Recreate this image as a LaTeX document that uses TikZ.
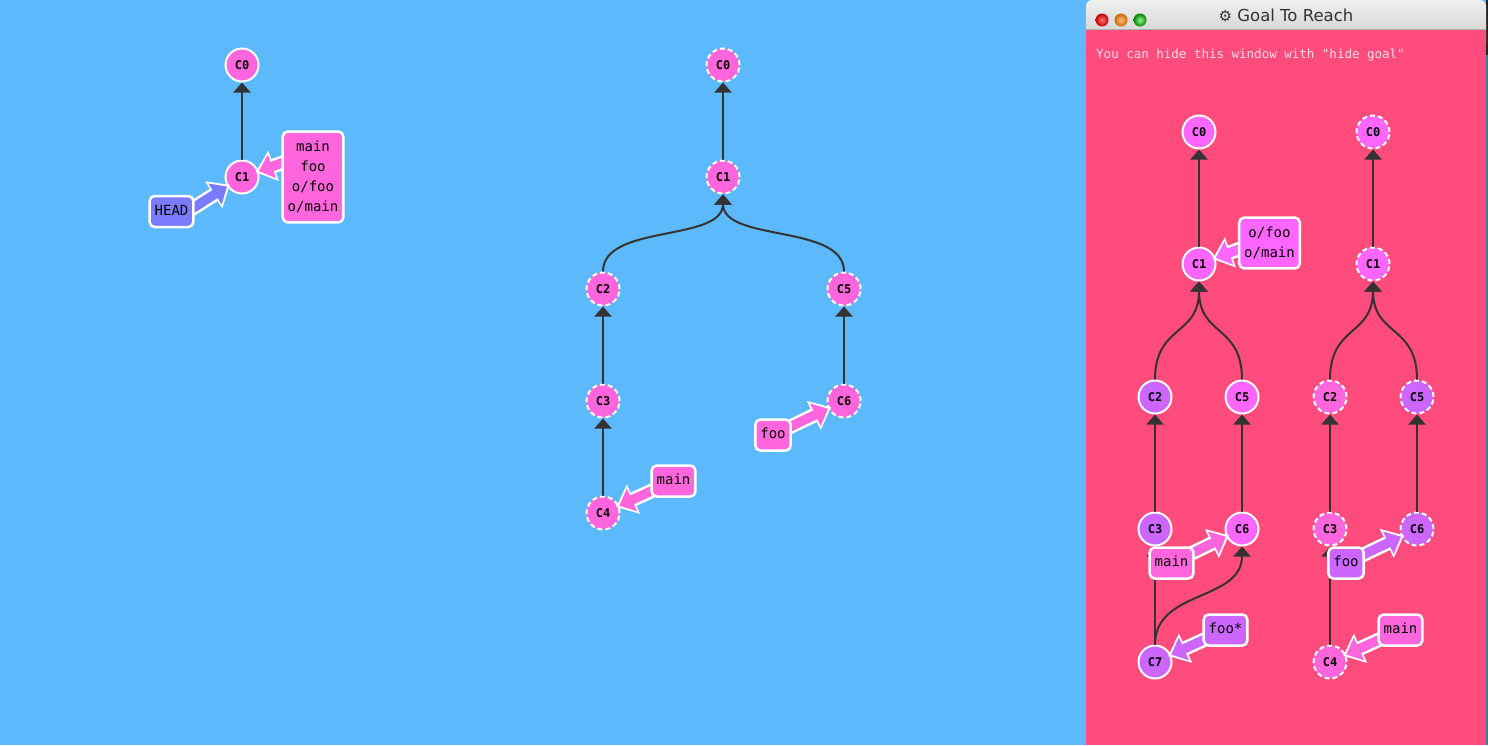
\documentclass[tikz,border=0pt]{standalone}
\usepackage{fontspec}
\usetikzlibrary{arrows.meta}
\newfontfamily\monof{DejaVu Sans Mono}
\newfontfamily\titlef{DejaVu Sans}
\definecolor{bgblue}{HTML}{5CBAFC}
\definecolor{pinkc}{HTML}{FF66DD}
\definecolor{magc}{HTML}{FF66FF}
\definecolor{purc}{HTML}{CC66FF}
\definecolor{headc}{HTML}{7B7BFF}
\definecolor{goalbg}{HTML}{FF4C7D}
\definecolor{edgec}{HTML}{333333}
\definecolor{hintc}{HTML}{FFDDE6}
\definecolor{behind}{HTML}{3B7C9C}
\newcommand\brarrow[3]{%
  \draw[line width=14.5pt, white, -{Triangle[width=31pt,length=19pt]}, shorten >=-3pt] (#2) -- (#3);
  \draw[line width=9.5pt, #1, -{Triangle[width=24pt,length=14pt]}, shorten >=0.3pt] (#2) -- (#3);
}
\begin{document}
\begin{tikzpicture}[x=1pt,y=-1pt,
  commit/.style={circle, minimum size=33pt, inner sep=0pt, draw=white, line width=2pt,
    font=\fontsize{12}{14}\monof\bfseries, text=black},
  dsh/.style={dash pattern=on 5pt off 3pt},
  edge/.style={draw=edgec, line width=2pt, -{Triangle[width=17pt,length=10pt]}},
  blabel/.style={draw=white, line width=2.5pt, rounded corners=5pt,
    font=\fontsize{14}{20}\monof\selectfont, inner xsep=5pt, minimum height=31pt,
    text height=10pt, text depth=3pt, text=black},
  mlabel/.style={draw=white, line width=2.5pt, rounded corners=5pt,
    font=\fontsize{14}{20}\monof\selectfont, inner xsep=5pt, inner ysep=9.5pt,
    align=center, text=black}]
\useasboundingbox (0,0) rectangle (1488,745);
\fill[bgblue] (0,0) rectangle (1488,745);

% ---------- goal window frame ----------
\fill[black!85] (1486,0) rectangle (1488,55);
\fill[behind] (1486,55) rectangle (1488,745);
\fill[black!35] (1085,4) rectangle (1087,745);
\shade[top color=black!6, bottom color=black!22, rounded corners=6pt] (1086,0) rectangle (1486,50);
\fill[goalbg] (1086,29) rectangle (1486,745);
\draw[black!30, line width=0.6pt] (1086,29) -- (1486,29);
\shade[inner color=red!55!white, outer color=red!75!black] (1102,20) circle (6.5pt);
\shade[inner color=orange!50!white, outer color=orange!80!black] (1121,20) circle (6.5pt);
\shade[inner color=green!45!white, outer color=green!50!black] (1140,20) circle (6.5pt);
\node[font=\fontsize{16.5}{18}\titlef\selectfont, text=black!80] (title) at (1286,15) {{\fontsize{15}{18}\selectfont ⚙} Goal To Reach};
\node[anchor=west, font=\fontsize{12.5}{14}\monof\selectfont, text=hintc, inner sep=0pt] (hint) at (1096,55) {You can hide this window with "hide goal"};

% ---------- commits ----------
\node[commit, fill=pinkc] (L0) at (242,65) {C0};
\node[commit, fill=pinkc] (L1) at (242,177) {C1};

\node[commit, dsh, fill=pinkc] (M0) at (723,65) {C0};
\node[commit, dsh, fill=pinkc] (M1) at (723,177) {C1};
\node[commit, dsh, fill=pinkc] (M2) at (603,289) {C2};
\node[commit, dsh, fill=pinkc] (M3) at (603,401) {C3};
\node[commit, dsh, fill=pinkc] (M4) at (603,513) {C4};
\node[commit, dsh, fill=pinkc] (M5) at (844,289) {C5};
\node[commit, dsh, fill=pinkc] (M6) at (844,401) {C6};

\node[commit, fill=magc] (G0) at (1199,132) {C0};
\node[commit, fill=magc] (G1) at (1199,264) {C1};
\node[commit, fill=purc] (G2) at (1155,397) {C2};
\node[commit, fill=magc] (G5) at (1242,397) {C5};
\node[commit, fill=purc] (G3) at (1155,529) {C3};
\node[commit, fill=magc] (G6) at (1242,529) {C6};
\node[commit, fill=purc] (G7) at (1155,662) {C7};

\node[commit, dsh, fill=magc] (R0) at (1373,132) {C0};
\node[commit, dsh, fill=magc] (R1) at (1373,264) {C1};
\node[commit, dsh, fill=pinkc] (R2) at (1330,397) {C2};
\node[commit, dsh, fill=purc] (R5) at (1417,397) {C5};
\node[commit, dsh, fill=pinkc] (R3) at (1330,529) {C3};
\node[commit, dsh, fill=purc] (R6) at (1417,529) {C6};
\node[commit, dsh, fill=pinkc] (R4) at (1330,662) {C4};

% ---------- edges ----------
\draw[edge] (L1) -- (L0);

\draw[edge] (M1) -- (M0);
\draw[edge] (M2.north) .. controls +(0,-48) and +(0,48) .. (M1.south);
\draw[edge] (M5.north) .. controls +(0,-48) and +(0,48) .. (M1.south);
\draw[edge] (M3) -- (M2);
\draw[edge] (M4) -- (M3);
\draw[edge] (M6) -- (M5);

\draw[edge] (G1) -- (G0);
\draw[edge] (G2.north) .. controls +(0,-55) and +(0,55) .. (G1.south);
\draw[edge] (G5.north) .. controls +(0,-55) and +(0,55) .. (G1.south);
\draw[edge] (G3) -- (G2);
\draw[edge] (G6) -- (G5);
\draw[edge] (G7) -- (G3);
\draw[edge] (G7.north) .. controls +(0,-55) and +(0,55) .. (G6.south);

\draw[edge] (R1) -- (R0);
\draw[edge] (R2.north) .. controls +(0,-55) and +(0,55) .. (R1.south);
\draw[edge] (R5.north) .. controls +(0,-55) and +(0,55) .. (R1.south);
\draw[edge] (R3) -- (R2);
\draw[edge] (R6) -- (R5);
\draw[edge] (R4) -- (R3);

% ---------- branch arrows ----------
\coordinate (headt) at (171,222);
\coordinate (lbigt) at (313,152);
\coordinate (mfooc) at (773,435);
\coordinate (mmainc) at (673.5,481);
\coordinate (gofc) at (1269.5,238);
\coordinate (gmainc) at (1171.5,563);
\coordinate (gfooc) at (1225.5,630);
\coordinate (rfooc) at (1346,563);
\coordinate (rmainc) at (1400.5,630);

\brarrow{headc}{headt}{L1}
\brarrow{pinkc}{lbigt}{L1}
\brarrow{pinkc}{mfooc}{M6}
\brarrow{pinkc}{mmainc}{M4}
\brarrow{magc}{gofc}{G1}
\brarrow{pinkc}{gmainc}{G6}
\brarrow{purc}{gfooc}{G7}
\brarrow{purc}{rfooc}{R6}
\brarrow{pinkc}{rmainc}{R4}

% ---------- branch labels ----------
\node[blabel, fill=headc] (head) at (171.5,211.5) {HEAD};
\node[mlabel, fill=pinkc] (lbig) at (313,177) {main\\foo\\o/foo\\o/main};
\node[blabel, fill=pinkc] (mfoo) at (mfooc) {foo};
\node[blabel, fill=pinkc] (mmain) at (mmainc) {main};
\node[mlabel, fill=magc] (gof) at (1269.5,243) {o/foo\\o/main};
\node[blabel, fill=pinkc] (gmain) at (gmainc) {main};
\node[blabel, fill=purc] (gfoo) at (gfooc) {foo*};
\node[blabel, fill=purc] (rfoo) at (rfooc) {foo};
\node[blabel, fill=pinkc] (rmain) at (rmainc) {main};
\end{tikzpicture}
\end{document}
